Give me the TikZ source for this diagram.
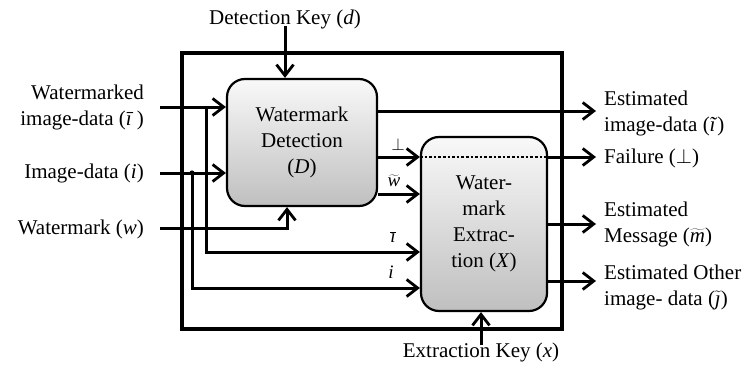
\documentclass[tikz,border=0pt]{standalone}
\usepackage{fontspec}
\setmainfont{Liberation Serif}
\usetikzlibrary{arrows.meta}
\begin{document}
\begin{tikzpicture}[x=1pt,y=-1pt,
  every node/.style={font=\fontsize{21}{26}\selectfont, inner sep=0pt},
  flow/.style={line width=3pt, -{Straight Barb[length=11pt,width=17pt,line width=2.8pt]}},
  blk/.style={draw, line width=2.2pt, rounded corners=18pt, top color=gray!5, bottom color=gray!50, align=center},
  inlbl/.style={anchor=east, align=right},
  outlbl/.style={anchor=west, align=left},
  small/.style={font=\fontsize{19}{22}\selectfont}
]
\useasboundingbox (0,0) rectangle (749,364);
% outer frame
\node[draw, line width=3.6pt, minimum width=380pt, minimum height=276pt] (frame) at (372,191) {};
% blocks
\node[blk, minimum width=150pt, minimum height=127pt] (D) at (302,142.5) {Watermark\\Detection\\(\textit{D})};
\node[blk, minimum width=126pt, minimum height=174pt] (X) at (484,224) {Water-\\mark\\Extrac-\\tion (\textit{X})};
% level coordinates
\coordinate (yE) at (0,111);
\coordinate (yF) at (0,157);
\coordinate (yG) at (0,194);
\coordinate (yH) at (0,252);
\coordinate (yI) at (0,288);
\coordinate (yM) at (0,224);
\coordinate (yO) at (0,281);
% keys
\node (dk) at (285,19) {Detection Key (\textit{d})};
\node (ek) at (481,352) {Extraction Key (\textit{x})};
\draw[flow] ([yshift=3pt]dk.south) -- (dk.south |- D.north);
\draw[flow] ([yshift=-3pt]ek.north) -- (ek.north |- X.south);
% input labels
\node[inlbl] (in1) at (144,107) {Watermarked\\image-data (\textit{ī}\,)};
\node[inlbl] (in2) at (144,173) {Image-data (\textit{i})};
\node[inlbl] (in3) at (144,229) {Watermark (\textit{w})};
\coordinate (s1) at (160,107);
\coordinate (s2) at (160,173);
\coordinate (s3) at (160,228);
\coordinate (b1) at (206,107);
\coordinate (b2) at (192,173);
\draw[flow] (s1) -- (s1 -| D.west);
\draw[flow] (s2) -- (s2 -| D.west);
\draw[flow] (s3) -| ([xshift=-15pt]D.south);
\draw[flow] (b1) |- (X.west |- yH);
\draw[flow] (b2) |- (X.west |- yI);
\fill (b2) circle (2.6pt);
% outputs
\coordinate (o1) at (596,111);
\coordinate (o2) at (596,157);
\coordinate (o3) at (596,224);
\coordinate (o4) at (596,281);
\draw[flow] (D.east |- yE) -- (o1);
\draw[flow] (D.east |- yF) -- (X.west |- yF);
\draw[flow] (D.east |- yG) -- (X.west |- yG);
\draw[line width=2.6pt, dotted] (X.west |- yF) -- (X.east |- yF);
\draw[flow] (X.east |- yF) -- (o2);
\draw[flow] (X.east |- yM) -- (o3);
\draw[flow] (X.east |- yO) -- (o4);
% small labels
\node[small] (lp) at (398,144) {$\perp$};
\node[small] (lw) at (394,181) {$\widetilde{\textit{w}}$};
\node[small] (li1) at (393,237) {$\overline{\textit{ı}}$};
\node[small] (li2) at (391,272) {\textit{i}};
% output labels
\node[outlbl] (out1) at (604,113) {Estimated\\image-data (\textit{ĩ})};
\node[outlbl] (out2) at (604,158) {Failure ($\perp$)};
\node[outlbl] (out3) at (604,224) {Estimated\\Message ($\widetilde{\textit{m}}$)};
\node[outlbl] (out4) at (604,287) {Estimated Other\\image- data ($\tilde{\textit{ȷ}}$)};
\end{tikzpicture}
\end{document}
